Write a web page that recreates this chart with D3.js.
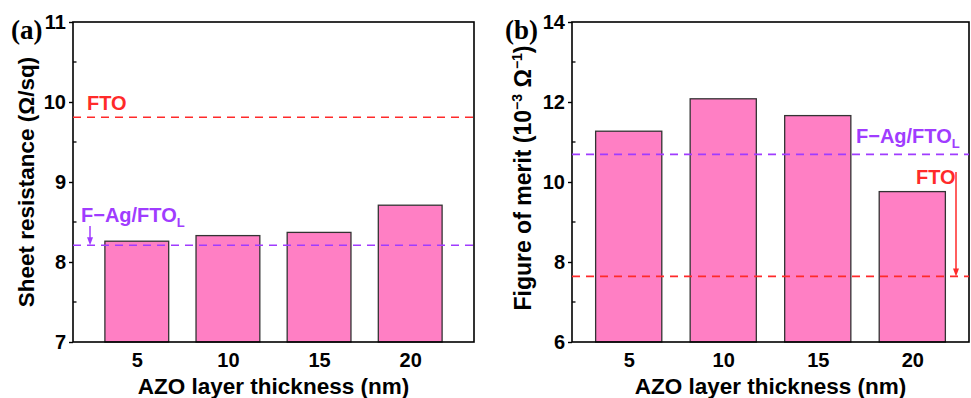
<!DOCTYPE html>
<html>
<head>
<meta charset="utf-8">
<script src="https://cdn.jsdelivr.net/npm/d3@7"></script>
<style>
  html, body { margin: 0; padding: 0; background: #fff; }
  svg { display: block; }
  text { font-family: "Liberation Sans", Arial, sans-serif; font-weight: bold; }
</style>
</head>
<body>
<svg id="chart" width="971" height="398"></svg>
<script>
// AZO layer thickness (nm)
const categories = [5, 10, 15, 20];
// Panel (a): sheet resistance, Ω/sq
const sheetResistance = [8.26, 8.33, 8.37, 8.71];
const rsFTO = 9.81;
const rsFAg = 8.21;
const rsTicks = [7, 8, 9, 10, 11];
// Panel (b): figure of merit, 10^-3 Ω^-1
const figureOfMerit = [11.27, 12.08, 11.66, 9.76];
const fomFTO = 7.64;
const fomFAg = 10.69;
const fomTicks = [6, 8, 10, 12, 14];

const BAR_FILL = "#ff7fc4";
const BAR_STROKE = "#333";
const RED = "#ff2a2a";
const PURPLE = "#a03cff";

const svg = d3.select("#chart");

function panel(opts) {
  const { left, right, top, bottom, xDomain, yDomain, values, ticks, minorTicks } = opts;
  const x = d3.scaleLinear().domain(xDomain).range([left, right]);
  const y = d3.scaleLinear().domain(yDomain).range([bottom, top]);
  const g = svg.append("g");
  const barW = 3.5;

  // bars
  g.selectAll("rect.bar").data(values).join("rect")
    .attr("class", "bar")
    .attr("x", (d, i) => x(categories[i] - barW / 2))
    .attr("width", (d, i) => x(categories[i] + barW / 2) - x(categories[i] - barW / 2))
    .attr("y", d => y(d))
    .attr("height", d => y(yDomain[0]) - y(d))
    .attr("fill", BAR_FILL)
    .attr("stroke", BAR_STROKE)
    .attr("stroke-width", 1.3);

  // frame
  g.append("rect")
    .attr("x", left).attr("y", top)
    .attr("width", right - left).attr("height", bottom - top)
    .attr("fill", "none").attr("stroke", "#000").attr("stroke-width", 1.6);

  // y axis: outward major ticks with labels
  const yAxis = d3.axisLeft(y).tickValues(ticks).tickSize(4).tickPadding(3).tickFormat(d3.format("d"));
  const ya = g.append("g").attr("transform", `translate(${left},0)`).call(yAxis);
  ya.select(".domain").remove();
  ya.selectAll(".tick line").attr("stroke", "#000").attr("stroke-width", 1.4);
  ya.selectAll(".tick text").attr("font-size", 20).attr("fill", "#000")
    .style("font-family", "'Liberation Sans', Arial, sans-serif").style("font-weight", "bold");

  // inward minor ticks
  g.selectAll("line.minor").data(minorTicks).join("line")
    .attr("class", "minor")
    .attr("x1", left).attr("x2", left + 3.5)
    .attr("y1", d => y(d)).attr("y2", d => y(d))
    .attr("stroke", "#000").attr("stroke-width", 1.3);

  // x axis category labels
  const xAxis = d3.axisBottom(x).tickValues(categories).tickSize(0).tickPadding(11).tickFormat(d3.format("d"));
  const xa = g.append("g").attr("transform", `translate(0,${bottom})`).call(xAxis);
  xa.select(".domain").remove();
  xa.selectAll(".tick text").attr("font-size", 20).attr("fill", "#000")
    .style("font-family", "'Liberation Sans', Arial, sans-serif").style("font-weight", "bold");

  // x title
  g.append("text")
    .attr("x", (left + right) / 2).attr("y", 394)
    .attr("text-anchor", "middle").attr("font-size", 22.5)
    .text("AZO layer thickness (nm)");

  return { g, x, y };
}

function refLine(g, x, y, xDomain, v, color) {
  g.append("line")
    .attr("x1", x(xDomain[0])).attr("x2", x(xDomain[1]))
    .attr("y1", y(v)).attr("y2", y(v))
    .attr("stroke", color).attr("stroke-width", 1.6)
    .attr("stroke-dasharray", "8,6");
}

function arrow(g, xp, y0, y1, color) {
  g.append("line")
    .attr("x1", xp).attr("x2", xp).attr("y1", y0).attr("y2", y1 - 6)
    .attr("stroke", color).attr("stroke-width", 1.5);
  g.append("path")
    .attr("d", `M${xp - 3},${y1 - 8} L${xp + 3},${y1 - 8} L${xp},${y1} Z`)
    .attr("fill", color);
}

function fagLabel(g, xp, yp) {
  const t = g.append("text").attr("x", xp).attr("y", yp)
    .attr("font-size", 20).attr("fill", PURPLE);
  t.append("tspan").text("F\u2212Ag/FTO");
  t.append("tspan").attr("font-size", 13).attr("dy", 5).text("L");
}

// ---- Panel (a)
const xDomA = [1.5, 23.5];
const A = panel({
  left: 73, right: 474, top: 22, bottom: 342,
  xDomain: xDomA, yDomain: [7, 11],
  values: sheetResistance, ticks: rsTicks,
  minorTicks: [7.5, 8.5, 9.5, 10.5]
});
refLine(A.g, A.x, A.y, xDomA, rsFTO, RED);
refLine(A.g, A.x, A.y, xDomA, rsFAg, PURPLE);
A.g.append("text").attr("x", 87).attr("y", 110).attr("font-size", 20).attr("fill", RED).text("FTO");
fagLabel(A.g, 81, 222);
arrow(A.g, 90, 226, A.y(rsFAg), PURPLE);
A.g.append("text")
  .attr("transform", `translate(34,${(22 + 342) / 2}) rotate(-90)`)
  .attr("text-anchor", "middle").attr("font-size", 22.5)
  .text("Sheet resistance (\u03A9/sq)");
A.g.append("text").attr("x", 11).attr("y", 39)
  .style("font-family", "'Liberation Serif', 'Times New Roman', serif")
  .attr("font-size", 27).text("(a)");

// ---- Panel (b)
const xDomB = [2, 23];
const B = panel({
  left: 572, right: 969, top: 22, bottom: 342,
  xDomain: xDomB, yDomain: [6, 14],
  values: figureOfMerit, ticks: fomTicks,
  minorTicks: [7, 9, 11, 13]
});
refLine(B.g, B.x, B.y, xDomB, fomFAg, PURPLE);
refLine(B.g, B.x, B.y, xDomB, fomFTO, RED);
fagLabel(B.g, 856, 143);
B.g.append("text").attr("x", 916).attr("y", 184).attr("font-size", 20).attr("fill", RED).text("FTO");
arrow(B.g, 956, 172, B.y(fomFTO), RED);
const tb = B.g.append("text")
  .attr("transform", `translate(531,${(22 + 342) / 2 - 4}) rotate(-90)`)
  .attr("text-anchor", "middle").attr("font-size", 23);
tb.append("tspan").text("Figure of merit (10");
tb.append("tspan").attr("font-size", 14).attr("dy", -9).text("\u22123");
tb.append("tspan").attr("dy", 9).text(" \u03A9");
tb.append("tspan").attr("font-size", 14).attr("dy", -9).text("\u22121");
tb.append("tspan").attr("dy", 9).text(")");
B.g.append("text").attr("x", 505).attr("y", 39)
  .style("font-family", "'Liberation Serif', 'Times New Roman', serif")
  .attr("font-size", 27).text("(b)");
</script>
</body>
</html>
